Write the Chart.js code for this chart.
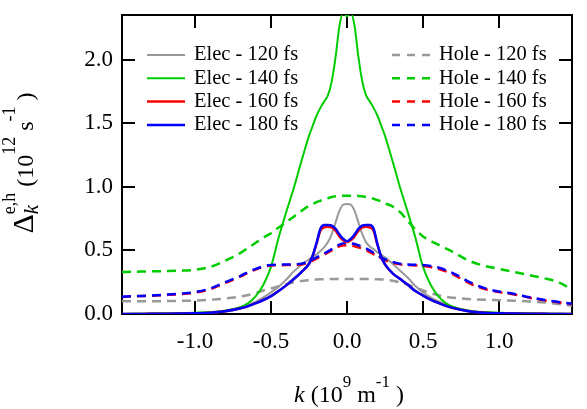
<!DOCTYPE html>
<html><head><meta charset="utf-8">
<script src="https://cdn.jsdelivr.net/npm/chart.js@4.4.1/dist/chart.umd.min.js"></script>
<style>html,body{margin:0;padding:0;background:#fff;} canvas{display:block;}</style>
</head><body>
<canvas id="c" width="587" height="409"></canvas>
<script>
// k values (10^9 m^-1)
const kGrid = [-1.48,-1.4,-1.3,-1.2,-1.1,-1.0,-0.9,-0.8,-0.7,-0.65,-0.6,-0.55,-0.5,-0.45,-0.4,-0.35,-0.3,-0.25,-0.225,-0.2,-0.175,-0.15,-0.125,-0.1,-0.075,-0.05,-0.025,0,0.025,0.05,0.075,0.1,0.125,0.15,0.175,0.2,0.225,0.25,0.3,0.35,0.4,0.45,0.5,0.55,0.6,0.65,0.7,0.8,0.9,1.0,1.1,1.2,1.3,1.4,1.48];

const elec120 = [0,0.001,0.002,0.003,0.005,0.008,0.014,0.027,0.052,0.072,0.098,0.13,0.17,0.215,0.27,0.335,0.385,0.43,0.45,0.47,0.495,0.525,0.565,0.63,0.72,0.81,0.86,0.865,0.86,0.81,0.72,0.63,0.565,0.53,0.51,0.485,0.465,0.445,0.395,0.34,0.285,0.22,0.17,0.13,0.1,0.075,0.055,0.028,0.014,0.008,0.005,0.003,0.002,0.001,0];
const elec140 = [0,0.001,0.002,0.004,0.006,0.01,0.015,0.026,0.055,0.085,0.14,0.23,0.37,0.6,0.8,0.99,1.2,1.4,1.48,1.56,1.62,1.67,1.72,1.83,2.02,2.26,2.37,2.34,2.37,2.26,2.02,1.83,1.72,1.67,1.62,1.56,1.48,1.4,1.2,0.99,0.8,0.6,0.37,0.23,0.14,0.085,0.055,0.026,0.015,0.01,0.006,0.004,0.002,0.001,0];
const elec160 = [0,0,0.001,0.002,0.003,0.005,0.01,0.022,0.045,0.062,0.085,0.11,0.14,0.18,0.225,0.275,0.33,0.395,0.46,0.555,0.655,0.68,0.685,0.68,0.655,0.61,0.58,0.565,0.58,0.61,0.655,0.68,0.685,0.68,0.655,0.545,0.45,0.39,0.32,0.275,0.23,0.18,0.145,0.113,0.087,0.064,0.046,0.022,0.01,0.005,0.003,0.002,0.001,0,0];
const elec180 = [0,0,0.001,0.002,0.003,0.005,0.01,0.022,0.045,0.062,0.085,0.11,0.14,0.18,0.225,0.275,0.33,0.395,0.46,0.56,0.67,0.70,0.70,0.695,0.67,0.625,0.59,0.572,0.59,0.625,0.67,0.695,0.70,0.70,0.67,0.55,0.45,0.39,0.32,0.275,0.23,0.18,0.145,0.113,0.087,0.064,0.046,0.022,0.01,0.005,0.003,0.002,0.001,0,0];

const hole120 = [0.1,0.1,0.1,0.101,0.103,0.106,0.112,0.122,0.138,0.15,0.165,0.185,0.2,0.218,0.235,0.25,0.26,0.267,0.27,0.272,0.273,0.274,0.275,0.275,0.275,0.275,0.275,0.275,0.275,0.275,0.275,0.275,0.275,0.275,0.274,0.273,0.272,0.27,0.262,0.248,0.23,0.208,0.185,0.163,0.148,0.135,0.127,0.118,0.112,0.108,0.104,0.099,0.09,0.077,0.065];
const hole140 = [0.33,0.332,0.335,0.337,0.34,0.347,0.37,0.42,0.48,0.52,0.56,0.6,0.635,0.68,0.72,0.765,0.81,0.85,0.865,0.88,0.89,0.9,0.91,0.92,0.925,0.928,0.93,0.93,0.93,0.93,0.928,0.925,0.92,0.915,0.905,0.895,0.885,0.87,0.845,0.8,0.73,0.665,0.61,0.575,0.545,0.515,0.485,0.42,0.38,0.355,0.33,0.305,0.28,0.245,0.19];
const hole160 = [0.133,0.138,0.143,0.149,0.156,0.168,0.195,0.245,0.295,0.325,0.35,0.37,0.382,0.383,0.385,0.385,0.388,0.405,0.42,0.437,0.453,0.468,0.485,0.5,0.515,0.532,0.538,0.54,0.538,0.532,0.525,0.515,0.5,0.487,0.47,0.452,0.437,0.422,0.402,0.39,0.385,0.382,0.378,0.37,0.355,0.335,0.31,0.245,0.198,0.172,0.153,0.128,0.107,0.09,0.077];
const hole180 = [0.135,0.14,0.145,0.152,0.16,0.172,0.2,0.25,0.3,0.33,0.355,0.375,0.385,0.388,0.39,0.39,0.395,0.415,0.43,0.445,0.46,0.475,0.492,0.51,0.53,0.545,0.555,0.558,0.555,0.55,0.54,0.53,0.515,0.5,0.48,0.46,0.445,0.43,0.41,0.395,0.39,0.387,0.385,0.378,0.365,0.345,0.32,0.255,0.205,0.177,0.158,0.132,0.11,0.093,0.08];

const kTicks = [-1.0,-0.5,0.0,0.5,1.0];
const yTicks = [0.0,0.5,1.0,1.5,2.0];
const elecLabels = ['Elec - 120 fs','Elec - 140 fs','Elec - 160 fs','Elec - 180 fs'];
const holeLabels = ['Hole - 120 fs','Hole - 140 fs','Hole - 160 fs','Hole - 180 fs'];
const colors = ['#999999','#00cc00','#ff0000','#0000ff'];

const SERIF = '"Liberation Serif","Times New Roman",serif';
const pts = arr => kGrid.map((k,i)=>({x:k,y:arr[i]}));
const solidW = [2,2,2.5,2.5];
const dash = [9,6];

function ds(label, arr, ci, dashed, order){
  return {label, data: pts(arr), borderColor: colors[ci], borderWidth: dashed?2.5:solidW[ci],
    borderDash: dashed?dash:[], pointRadius:0, cubicInterpolationMode:'monotone', fill:false, order};
}

const datasets = [
  ds(elecLabels[3], elec180, 3, false, 0),
  ds(elecLabels[2], elec160, 2, false, 1),
  ds(holeLabels[3], hole180, 3, true, 2),
  ds(holeLabels[2], hole160, 2, true, 3),
  ds(elecLabels[1], elec140, 1, false, 4),
  ds(elecLabels[0], elec120, 0, false, 5),
  ds(holeLabels[1], hole140, 1, true, 6),
  ds(holeLabels[0], hole120, 0, true, 7),
];

function drawRich(ctx, segs, cx, baseY){
  const fontOf = s => (s.italic?'italic ':'') + s.size + 'px ' + SERIF;
  const pos = [];
  let x = 0, prevStart = 0, prevW = 0;
  segs.forEach(s=>{
    ctx.font = fontOf(s);
    const w = ctx.measureText(s.t).width;
    if (s.stack){ pos.push(prevStart); x = prevStart + Math.max(prevW, w); prevW = Math.max(prevW,w); }
    else { pos.push(x); prevStart = x; prevW = w; x += w; }
  });
  const x0 = cx - x/2;
  ctx.textBaseline = 'alphabetic';
  ctx.textAlign = 'left';
  ctx.fillStyle = '#000';
  segs.forEach((s,i)=>{
    ctx.font = fontOf(s);
    ctx.fillText(s.t, x0 + pos[i], baseY + (s.dy||0));
  });
}

const deco = {
  id:'deco',
  beforeDatasetsDraw(chart){
    const {ctx, chartArea:a, scales:{x,y}} = chart;
    ctx.save();
    ctx.strokeStyle = '#000'; ctx.lineWidth = 2;
    ctx.strokeRect(a.left, a.top, a.right-a.left, a.bottom-a.top);
    const tl = 13;
    ctx.beginPath();
    kTicks.forEach(v=>{
      const px = Math.round(x.getPixelForValue(v));
      ctx.moveTo(px, a.bottom); ctx.lineTo(px, a.bottom - tl);
      ctx.moveTo(px, a.top); ctx.lineTo(px, a.top + tl);
    });
    yTicks.forEach(v=>{
      const py = Math.round(y.getPixelForValue(v));
      ctx.moveTo(a.left, py); ctx.lineTo(a.left + tl, py);
      ctx.moveTo(a.right, py); ctx.lineTo(a.right - tl, py);
    });
    ctx.stroke();
    ctx.restore();
  },
  afterDraw(chart){
    const {ctx, chartArea:a} = chart;
    ctx.save();
    const rowY = [55, 78.3, 101.6, 125];
    ctx.font = '20.5px ' + SERIF;
    ctx.textBaseline = 'middle';
    ctx.textAlign = 'left';
    for (let i=0;i<4;i++){
      ctx.strokeStyle = colors[i];
      ctx.lineWidth = i>=2 ? 2.5 : 2;
      ctx.setLineDash([]);
      ctx.beginPath(); ctx.moveTo(147, rowY[i]); ctx.lineTo(185, rowY[i]); ctx.stroke();
      ctx.fillStyle = '#000';
      ctx.fillText(elecLabels[i], 194, rowY[i]);
      ctx.setLineDash([8,7]);
      ctx.lineWidth = 2.5;
      ctx.beginPath(); ctx.moveTo(392, rowY[i]); ctx.lineTo(430, rowY[i]); ctx.stroke();
      ctx.setLineDash([]);
      ctx.fillText(holeLabels[i], 439, rowY[i]);
    }
    drawRich(ctx, [
      {t:'k', size:24, italic:true},
      {t:' (10', size:24},
      {t:'9', size:17, dy:-15},
      {t:' m', size:24},
      {t:'-1', size:17, dy:-15},
      {t:' )', size:24}
    ], (a.left+a.right)/2 + 2, 402);
    ctx.save();
    ctx.translate(33, 163);
    ctx.rotate(-Math.PI/2);
    drawRich(ctx, [
      {t:'\u0394', size:30},
      {t:'k', size:21, italic:true, dy:5},
      {t:'e,h', size:18, dy:-18, stack:true},
      {t:' (10', size:24},
      {t:'12', size:18, dy:-18},
      {t:' s', size:24},
      {t:'-1', size:18, dy:-18},
      {t:' )', size:24}
    ], 0, 0);
    ctx.restore();
    ctx.restore();
  }
};

new Chart(document.getElementById('c'), {
  type:'line',
  data:{datasets},
  options:{
    responsive:false, animation:false, devicePixelRatio:1,
    layout:{padding:{top:15, right:15, left:0, bottom:0}},
    plugins:{legend:{display:false}, tooltip:{enabled:false}},
    scales:{
      x:{type:'linear', min:-1.48, max:1.48,
        afterBuildTicks: s=>{ s.ticks = kTicks.map(v=>({value:v})); },
        afterFit: s=>{ s.height = 95; s.paddingLeft = 0; s.paddingRight = 0; },
        grid:{display:false, drawTicks:false}, border:{display:false},
        ticks:{color:'#000', font:{family:SERIF, size:23}, padding:14, maxRotation:0, autoSkip:false,
          callback: v=>Number(v).toFixed(1)}
      },
      y:{type:'linear', min:0, max:2.35,
        afterBuildTicks: s=>{ s.ticks = yTicks.map(v=>({value:v})); },
        afterFit: s=>{ s.width = 122; s.paddingTop = 0; s.paddingBottom = 0; },
        grid:{display:false, drawTicks:false}, border:{display:false},
        ticks:{color:'#000', font:{family:SERIF, size:23}, padding:9, autoSkip:false,
          callback: v=>Number(v).toFixed(1)}
      }
    }
  },
  plugins:[deco]
});
</script>
</body></html>
